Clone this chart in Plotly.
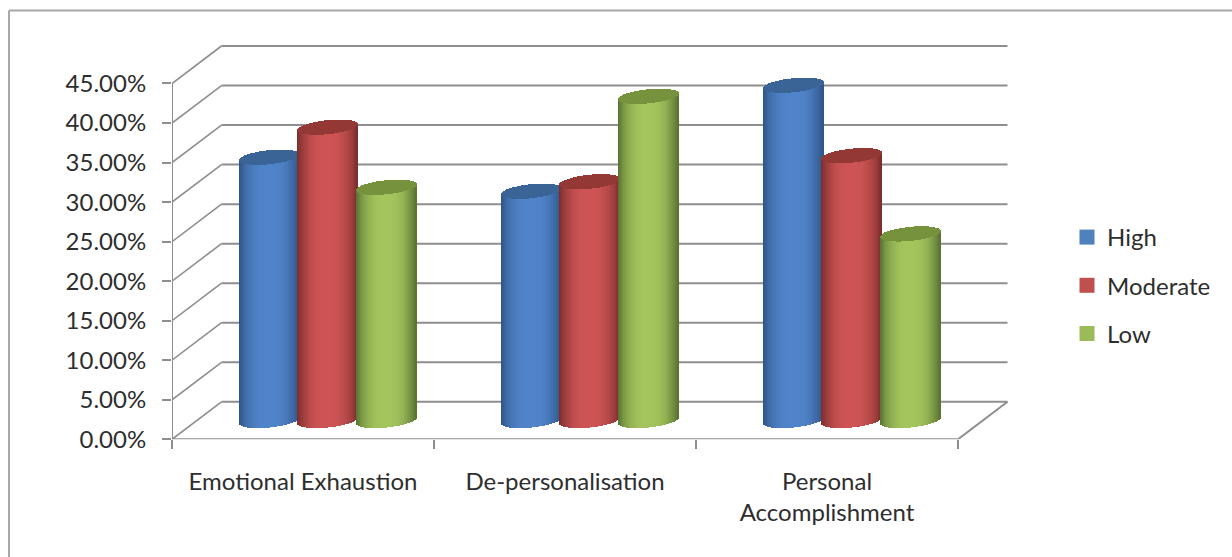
import numpy as np
import plotly.graph_objects as go

# Chart data (percent of respondents)
categories = ["Emotional Exhaustion", "De-personalisation", "Personal<br>Accomplishment"]
series_names = ["High", "Moderate", "Low"]
high = [33.3, 29.0, 42.4]
moderate = [37.1, 30.2, 33.5]
low = [29.5, 41.0, 23.6]
y_ticks = [0, 5, 10, 15, 20, 25, 30, 35, 40, 45]
y_tick_labels = ["0.00%", "5.00%", "10.00%", "15.00%", "20.00%", "25.00%",
                 "30.00%", "35.00%", "40.00%", "45.00%"]

# Cylinder colours: body edge, body centre, top cap, legend swatch
edge_colors = [(46, 84, 134), (122, 44, 44), (88, 114, 50)]
center_colors = [(80, 132, 202), (206, 84, 84), (164, 197, 93)]
cap_colors = ["#3A6496", "#943836", "#76923C"]
swatch_colors = ["#4F81BD", "#C0504D", "#9BBB59"]

# Page geometry in pixels
W, H = 1232, 557
left_px, right_px = 172.0, 958.0
floor_px, top_tick_px = 439.3, 83.5
depth_x_px, depth_y_px = 49.5, 37.5
px_per_cat = (right_px - left_px) / len(categories)
px_per_pct = (floor_px - top_tick_px) / y_ticks[-1]

# Back-wall offset and cylinder proportions in axis units
depth_x = depth_x_px / px_per_cat
depth_y = depth_y_px / px_per_pct
bar_step = 58.5 / px_per_cat
bar_width = 60.0 / px_per_cat
ellipse_ry = 7.0 / px_per_pct
ellipse_tilt = 3.0 / px_per_pct
n_slices = 64

x_end = len(categories) - 0.5 + depth_x + 0.01
y_end = y_ticks[-1] + depth_y + 0.5
line_color = "#8e8e8e"
text_color = "#2e2e2e"
font_family = "Lato, Carlito, sans-serif"

fig = go.Figure()


def lerp_rgb(a, b, s):
    return "rgb(%d,%d,%d)" % tuple(round(a[i] + (b[i] - a[i]) * s) for i in range(3))


# One cylinder group per series, later series overlapping earlier ones
t = (np.arange(n_slices) + 0.5) / n_slices * 2 - 1
half_chord = np.sqrt(1 - t ** 2)
shade = 1 - np.abs(t) ** 2.6
for s, (name, values) in enumerate(zip(series_names, [high, moderate, low])):
    values = np.array(values)
    cat_x = np.arange(len(categories)) + depth_x / 2 + (s - 1) * bar_step
    floor_y = depth_y / 2

    # Core column carrying the series values
    fig.add_trace(go.Bar(
        x=cat_x, y=values, base=floor_y, width=bar_width * 0.8, name=name,
        marker=dict(color=swatch_colors[s], line_width=0),
        legendgroup=name, showlegend=False, hoverinfo="x+y",
    ))

    # Shaded body and elliptical cap, built from thin vertical strips
    body_x, body_base, body_h, body_c = [], [], [], []
    cap_x, cap_base, cap_h = [], [], []
    colors = [lerp_rgb(edge_colors[s], center_colors[s], v) for v in shade]
    for cx, v in zip(cat_x, values):
        for ti, hc, col in zip(t, half_chord, colors):
            lean = ellipse_tilt * ti
            front = lean - ellipse_ry * hc
            back = lean + ellipse_ry * hc
            body_x.append(cx + ti * bar_width / 2)
            body_base.append(floor_y + front)
            body_h.append(v)
            body_c.append(col)
            cap_x.append(cx + ti * bar_width / 2)
            cap_base.append(floor_y + v + front)
            cap_h.append(back - front)
    strip = bar_width / n_slices
    fig.add_trace(go.Bar(
        x=body_x, y=body_h, base=body_base, width=strip,
        marker=dict(color=body_c, line_width=0),
        legendgroup=name, showlegend=False, hoverinfo="skip",
    ))
    fig.add_trace(go.Bar(
        x=cap_x, y=cap_h, base=cap_base, width=strip,
        marker=dict(color=cap_colors[s], line_width=0),
        legendgroup=name, showlegend=False, hoverinfo="skip",
    ))

    # Legend entry
    fig.add_trace(go.Scatter(
        x=[None], y=[None], mode="markers", name=name, legendgroup=name,
        marker=dict(symbol="square", size=15, color=swatch_colors[s]),
        hoverinfo="skip",
    ))

# Back-wall gridlines sit behind the cylinders
x0 = -0.5
x1 = len(categories) - 0.5
shapes = [
    dict(type="line", xref="x", yref="y", layer="below",
         x0=x0 + depth_x, x1=x1 + depth_x, y0=v + depth_y, y1=v + depth_y,
         line=dict(color=line_color, width=2))
    for v in y_ticks
]
# Chart-area frame
shapes += [
    dict(type="line", xref="paper", yref="paper", x0=9 / W, x1=1, y0=1 - 10.5 / H, y1=1 - 10.5 / H,
         line=dict(color="#a8a8a8", width=2)),
    dict(type="line", xref="paper", yref="paper", x0=9 / W, x1=9 / W, y0=0, y1=1 - 10.5 / H,
         line=dict(color="#a8a8a8", width=2)),
]

# Side-wall diagonals
for v in y_ticks:
    fig.add_trace(go.Scatter(
        x=[x0, x0 + depth_x], y=[v, v + depth_y], mode="lines", cliponaxis=False,
        line=dict(color=line_color, width=1.6), showlegend=False, hoverinfo="skip",
    ))
# Front axis lines and right-hand floor edge
fig.add_trace(go.Scatter(
    x=[x0, x0, x1, x1 + depth_x], y=[y_ticks[-1], 0, 0, depth_y], mode="lines", cliponaxis=False,
    line=dict(color=line_color, width=2), showlegend=False, hoverinfo="skip",
))

fig.update_layout(
    width=W, height=H, margin=dict(l=0, r=0, t=0, b=0, autoexpand=False),
    paper_bgcolor="white", plot_bgcolor="rgba(0,0,0,0)",
    barmode="overlay", bargap=0, shapes=shapes,
    font=dict(family=font_family, size=24, color=text_color),
    legend=dict(
        x=1077 / W, y=1 - 215 / H, xanchor="left", yanchor="top",
        traceorder="grouped", tracegroupgap=14, indentation=-10,
        bgcolor="rgba(0,0,0,0)", font=dict(size=24, color=text_color),
    ),
    xaxis=dict(
        domain=[left_px / W, (right_px + depth_x_px + 0.01 * px_per_cat) / W],
        range=[x0, x_end], type="linear",
        tickmode="array", tickvals=list(range(len(categories))), ticktext=categories,
        tickangle=0, ticks="outside", ticklen=21, tickcolor="rgba(0,0,0,0)",
        minor=dict(tickmode="array", tickvals=[-0.5, 0.5, 1.5, 2.5], ticks="outside",
                   ticklen=9, tickwidth=2, tickcolor=line_color),
        showgrid=False, zeroline=False, showline=False,
    ),
    yaxis=dict(
        domain=[1 - floor_px / H, 1 - (floor_px - y_end * px_per_pct) / H],
        range=[0, y_end], type="linear",
        tickmode="array", tickvals=y_ticks, ticktext=y_tick_labels,
        ticks="outside", ticklen=9, tickwidth=2, tickcolor=line_color,
        ticklabelstandoff=11,
        showgrid=False, zeroline=False, showline=False,
    ),
)

fig.write_html("out.html")
